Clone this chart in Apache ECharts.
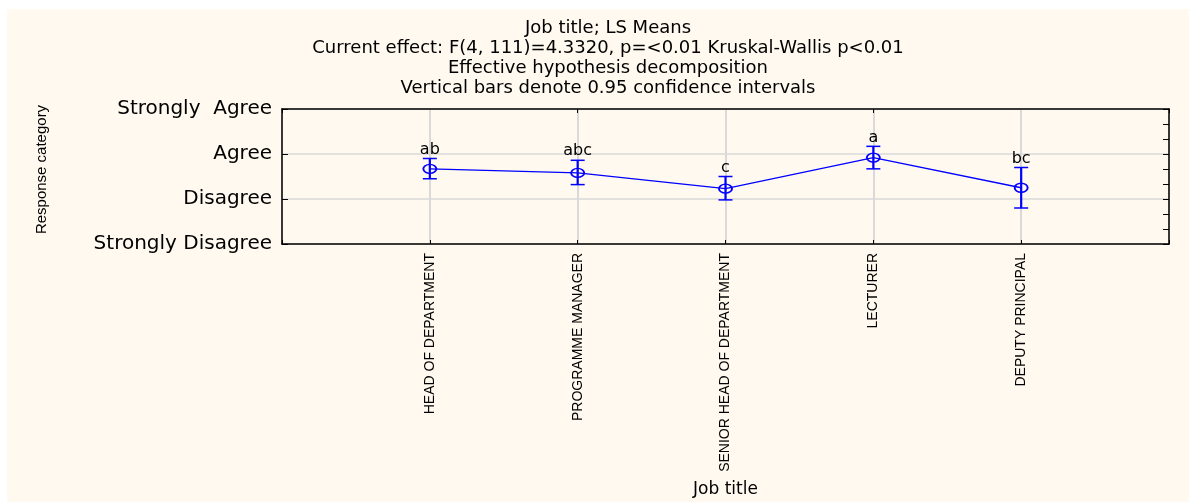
<!DOCTYPE html>
<html>
<head>
<meta charset="utf-8">
<script src="https://cdn.jsdelivr.net/npm/echarts@6/dist/echarts.min.js"></script>
<style>
  html, body { margin: 0; padding: 0; background: #ffffff; width: 1189px; height: 502px; overflow: hidden; }
  #chart { position: absolute; left: 7px; top: 9px; width: 1182px; height: 493px; }
</style>
</head>
<body>
<div id="chart"></div>
<script>
// ---- data ----
const categories = ['HEAD OF DEPARTMENT', 'PROGRAMME MANAGER', 'SENIOR HEAD OF DEPARTMENT', 'LECTURER', 'DEPUTY PRINCIPAL'];
const means  = [2.67, 2.58, 2.23, 2.92, 2.25];
const ciLow  = [2.45, 2.32, 1.98, 2.67, 1.80];
const ciHigh = [2.90, 2.86, 2.50, 3.17, 2.70];
const groupLetters = ['ab', 'abc', 'c', 'a', 'bc'];
const yTickLabels = ['Strongly Disagree', 'Disagree', 'Agree', 'Strongly  Agree']; // values 1..4
const titleLines = [
  'Job title; LS Means',
  'Current effect: F(4, 111)=4.3320, p=<0.01 Kruskal-Wallis p<0.01',
  'Effective hypothesis decomposition',
  'Vertical bars denote 0.95 confidence intervals'
];

const axisCats = [''].concat(categories).concat([' ']);
const WIDE = '"DejaVu Sans", sans-serif';
const NARROW = '"Liberation Sans", Arial, sans-serif';
const BLUE = '#0000ff';

const lineData = categories.map((c, i) => [c, means[i]]);
const barData = categories.map((c, i) => [c, ciLow[i], ciHigh[i]]);

const chart = echarts.init(document.getElementById('chart'), null, { renderer: 'canvas' });

chart.setOption({
  backgroundColor: '#fff9ef',
  animation: false,
  graphic: [
    {
      type: 'text', x: 601, y: 9, z: 10,
      style: {
        text: titleLines.join('\n'), align: 'center', verticalAlign: 'top',
        fontFamily: WIDE, fontSize: 18, lineHeight: 20, fill: '#000'
      }
    }
  ],
  grid: { left: 275, right: 20, top: 100, bottom: 258, containLabel: false },
  xAxis: [
    {
      type: 'category', data: axisCats, boundaryGap: false, position: 'bottom',
      name: 'Job title', nameLocation: 'middle', nameGap: 237,
      nameTextStyle: { fontFamily: WIDE, fontSize: 17, color: '#000' },
      axisLine: { show: true, lineStyle: { color: '#000', width: 1.5 } },
      axisTick: { show: true, inside: true, length: 4, alignWithLabel: true, lineStyle: { color: '#000' } },
      axisLabel: { show: true, rotate: 90, margin: 9, interval: 0, fontFamily: NARROW, fontSize: 14, color: '#000' },
      splitLine: { show: true, lineStyle: { color: '#d9d9d9', width: 2 } }
    },
    {
      type: 'category', data: axisCats, boundaryGap: false, position: 'top',
      axisLine: { show: true, lineStyle: { color: '#000', width: 1.5 } },
      axisTick: { show: true, inside: true, length: 4, lineStyle: { color: '#000' } },
      axisLabel: { show: false },
      splitLine: { show: false }
    }
  ],
  yAxis: [
    {
      type: 'value', min: 1, max: 4, interval: 1, position: 'left',
      name: 'Response category', nameLocation: 'middle', nameGap: 233, nameRotate: 90,
      nameTextStyle: { fontFamily: NARROW, fontSize: 15, color: '#000', padding: [0, 0, 0, 14] },
      axisLine: { show: true, lineStyle: { color: '#000', width: 1.5 } },
      axisTick: { show: true, inside: true, length: 6, lineStyle: { color: '#000' } },
      axisLabel: {
        show: true, margin: 10, fontFamily: WIDE, fontSize: 20, color: '#000',
        formatter: v => yTickLabels[Math.round(v) - 1]
      },
      splitLine: { show: true, lineStyle: { color: '#d9d9d9', width: 1.5 } }
    },
    {
      type: 'value', min: 1, max: 4, interval: 1, position: 'right',
      axisLine: { show: true, lineStyle: { color: '#000', width: 1.5 } },
      axisTick: { show: true, inside: true, length: 6, lineStyle: { color: '#000' } },
      minorTick: { show: true, splitNumber: 3, length: 6, lineStyle: { color: '#000' } },
      axisLabel: { show: false },
      splitLine: { show: false }
    }
  ],
  series: [
    {
      type: 'line', xAxisIndex: 0, yAxisIndex: 0, data: lineData,
      lineStyle: { color: BLUE, width: 1.3 },
      symbol: 'path://M0,5A5,5 0 1,0 10,5A5,5 0 1,0 0,5Z',
      symbolSize: [13, 9],
      itemStyle: { color: 'rgba(0,0,0,0)', borderColor: BLUE, borderWidth: 1.6 },
      z: 3
    },
    {
      type: 'custom', xAxisIndex: 0, yAxisIndex: 0, data: barData, z: 4,
      renderItem: function (params, api) {
        const xv = api.value(0);
        const pLo = api.coord([xv, api.value(1)]);
        const pHi = api.coord([xv, api.value(2)]);
        const half = 7;
        return {
          type: 'group',
          children: [
            { type: 'line', shape: { x1: pLo[0], y1: pLo[1], x2: pHi[0], y2: pHi[1] }, style: { stroke: BLUE, lineWidth: 2.2 } },
            { type: 'line', shape: { x1: pHi[0] - half, y1: pHi[1], x2: pHi[0] + half, y2: pHi[1] }, style: { stroke: BLUE, lineWidth: 1.5 } },
            { type: 'line', shape: { x1: pLo[0] - half, y1: pLo[1], x2: pLo[0] + half, y2: pLo[1] }, style: { stroke: BLUE, lineWidth: 1.5 } },
            { type: 'text', style: {
                text: groupLetters[params.dataIndex], x: pHi[0], y: pHi[1] - 1,
                align: 'center', verticalAlign: 'bottom', fill: '#000',
                fontFamily: WIDE, fontSize: 16
            } }
          ]
        };
      }
    }
  ]
});
</script>
</body>
</html>
